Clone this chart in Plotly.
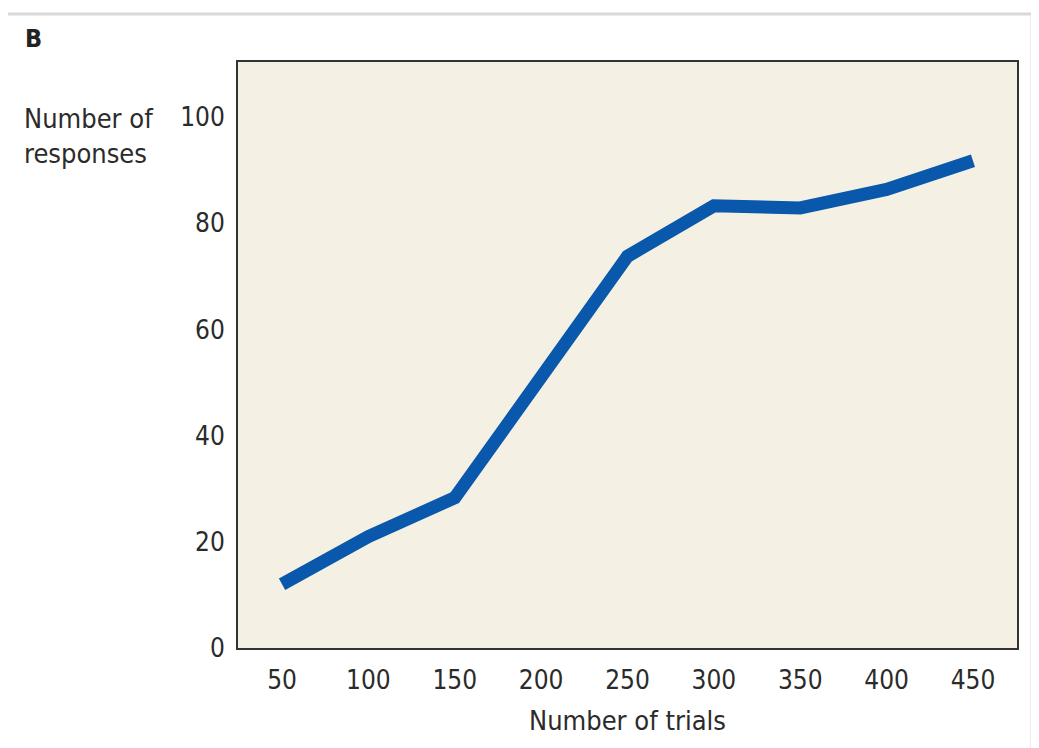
import plotly.graph_objects as go

trials = [50, 100, 150, 200, 250, 300, 350, 400, 450]
responses = [12, 21, 28.3, 51, 73.8, 83.3, 82.9, 86.4, 91.8]
x_ticks = [50, 100, 150, 200, 250, 300, 350, 400, 450]
y_ticks = [0, 20, 40, 60, 80, 100]

FONT = "Liberation Sans Narrow, DejaVu Sans Condensed, Arial Narrow, Roboto, sans-serif"
TXT = "#2b2b2b"

# page offset (body margin) compensation
OFF = 8
W, H = 1039 - OFF, 748 - OFF
L, R, T, B = 238 - OFF, 22, 62 - OFF, 100

fig = go.Figure()
fig.add_trace(go.Scatter(
    x=trials, y=responses, mode="lines",
    line=dict(color="#0a58ab", width=13),
    showlegend=False, hoverinfo="skip",
))

fig.update_layout(
    width=W, height=H,
    margin=dict(l=L, r=R, t=T, b=B),
    paper_bgcolor="white",
    plot_bgcolor="#f4f1e4",
    font=dict(family=FONT, size=26, color=TXT),
    xaxis=dict(
        range=[24.5, 475.5], tickvals=x_ticks, ticktext=[str(v) for v in x_ticks],
        showgrid=False, zeroline=False, showline=True, linecolor="#333333", linewidth=2,
        mirror=True, ticks="", ticklabelstandoff=8,
        title=dict(text="Number of trials", font=dict(size=27, family=FONT, color=TXT), standoff=17),
    ),
    yaxis=dict(
        range=[0, 110.4], tickvals=y_ticks, ticktext=[str(v) for v in y_ticks],
        showgrid=False, zeroline=False, showline=True, linecolor="#333333", linewidth=2,
        mirror=True, ticks="", ticklabelstandoff=6,
    ),
)

pw = W - L - R
ph = H - T - B
def px_x(px):
    return (px - OFF - L) / pw
def px_y(py):
    return (H - B - (py - OFF)) / ph

fig.add_annotation(text="<b>B</b>", x=px_x(23), y=px_y(22), xref="paper", yref="paper",
                   showarrow=False, xanchor="left", yanchor="top",
                   font=dict(size=25, family=FONT, color="#222222"))
fig.add_annotation(text="Number of<br>responses", x=px_x(22), y=px_y(101), xref="paper", yref="paper",
                   showarrow=False, align="left", xanchor="left", yanchor="top",
                   font=dict(size=27, family=FONT, color=TXT))

fig.add_shape(type="line", xref="paper", yref="paper",
              x0=px_x(-10), x1=px_x(1032), y0=px_y(14), y1=px_y(14),
              line=dict(color="#d9d9d9", width=3))
fig.add_shape(type="line", xref="paper", yref="paper",
              x0=px_x(1032), x1=px_x(1032), y0=px_y(14), y1=px_y(760),
              line=dict(color="#d9d9d9", width=3))

fig.write_html("out.html")
